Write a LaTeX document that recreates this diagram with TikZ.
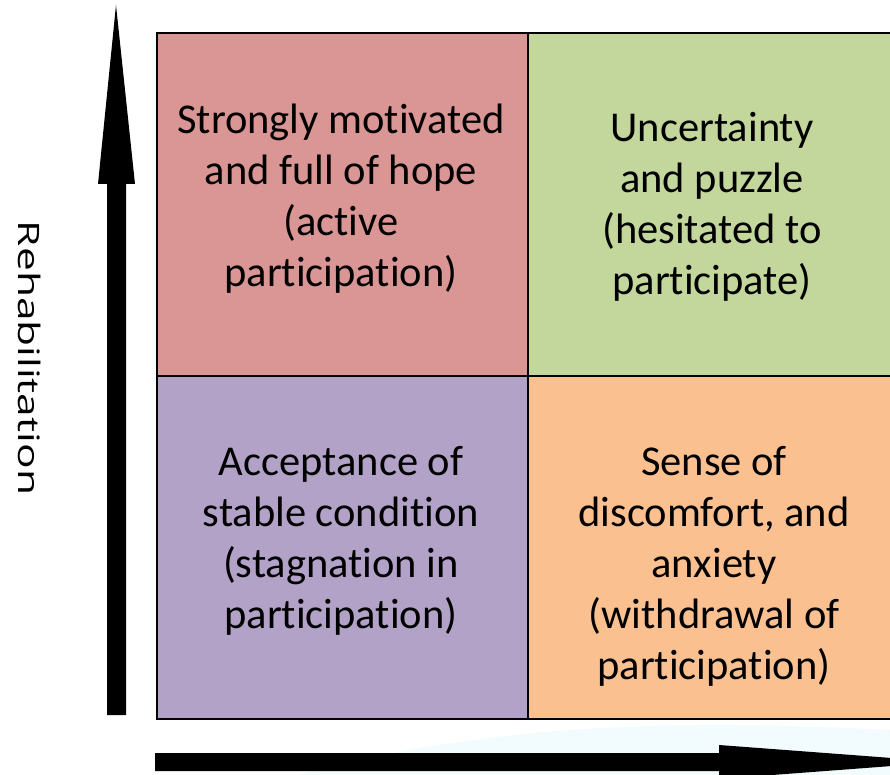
\documentclass[tikz,border=0pt]{standalone}
\usepackage{fontspec}
\setmainfont{Carlito}[Ligatures=CommonOff]
\newfontfamily\labfont{Open Sans}
\begin{document}
\begin{tikzpicture}[x=1pt,y=-1pt,
  cell/.style={draw=black,line width=2pt,minimum width=371pt,minimum height=343pt,anchor=north west,inner sep=0pt},
  txt/.style={align=center,font=\fontsize{42.5}{51}\selectfont,inner sep=0pt},
  bigarrow/.style={fill=black}]
\useasboundingbox (0,0) rectangle (890,775);
\clip (0,0) rectangle (890,775);
% faint background swoosh
\fill[cyan!5] (300,775) .. controls (500,720) and (700,720) .. (890,730) -- (890,775) -- cycle;
\definecolor{cpink}{HTML}{D99694}
\definecolor{cgreen}{HTML}{C3D69B}
\definecolor{cpurple}{HTML}{B3A2C7}
\definecolor{corange}{HTML}{FAC090}
% cells
\node[cell,fill=cpink] (tl) at (156,32) {};
\node[cell,fill=cgreen] (tr) at (527,32) {};
\node[cell,fill=cpurple] (bl) at (156,375) {};
\node[cell,fill=corange] (br) at (527,375) {};
% texts
\node[txt] (ttl) at (341,199) {Strongly motivated\\and full of hope\\(active\\participation)};
\node[txt] (ttr) at (712,207) {Uncertainty\\and puzzle\\(hesitated to\\participate)};
\node[txt] (tbl) at (341,541) {Acceptance of\\stable condition\\(stagnation in\\participation)};
\node[txt] (tbr) at (714,566) {Sense of\\discomfort, and\\anxiety\\(withdrawal of\\participation)};
% vertical arrow
\fill[bigarrow] (107,715) -- (107,184) -- (98,184) -- (116,5) -- (135,184) -- (126,184) -- (126,715) -- cycle;
% horizontal arrow
\fill[bigarrow] (155,753) -- (719,753) -- (719,745) -- (945,762) -- (719,779) -- (719,771) -- (155,771) -- cycle;
% axis label
\node[rotate=-90,font=\labfont\fontsize{29.5}{34}\selectfont,inner sep=0pt] (lab) at (30,358) {\scalebox{1.44}[1]{Rehabilitation}};
\end{tikzpicture}
\end{document}
